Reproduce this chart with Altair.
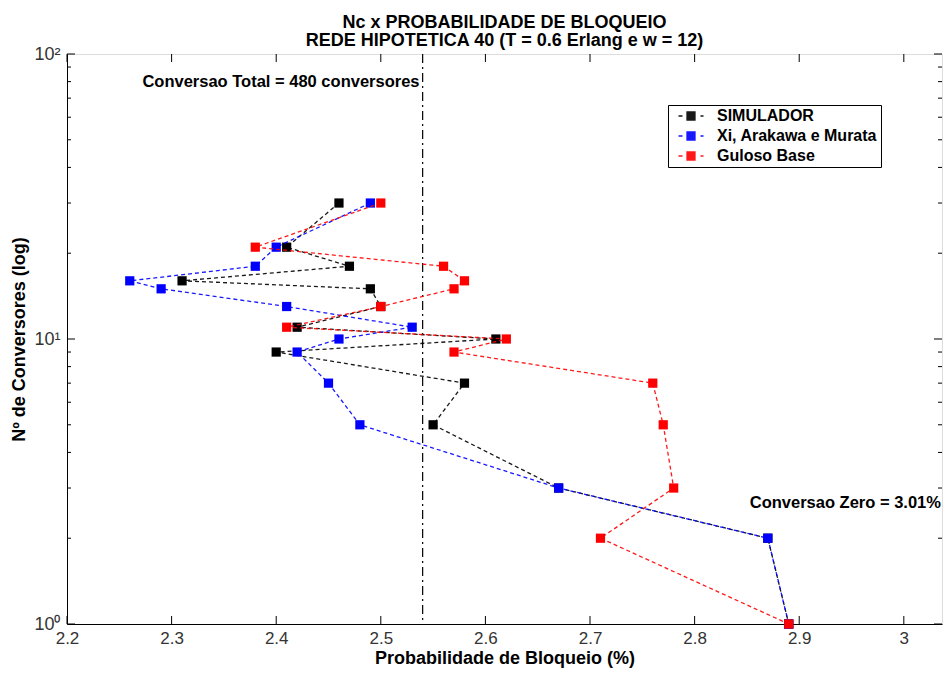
import altair as alt
import pandas as pd

# ---------------- data ----------------
nc = [30, 21, 18, 16, 15, 13, 11, 10, 9, 7, 5, 3, 2, 1]
simulador = [2.46, 2.41, 2.47, 2.31, 2.49, 2.50, 2.42, 2.61, 2.40, 2.58, 2.55, 2.67, 2.87, 2.89]
xi_arakawa_murata = [2.49, 2.40, 2.38, 2.26, 2.29, 2.41, 2.53, 2.46, 2.42, 2.45, 2.48, 2.67, 2.87, 2.89]
guloso_base = [2.50, 2.38, 2.56, 2.58, 2.57, 2.50, 2.41, 2.62, 2.57, 2.76, 2.77, 2.78, 2.71, 2.89]

series_names = ["SIMULADOR", "Xi, Arakawa e Murata", "Guloso Base"]
series_colors = ["#000000", "#0000ff", "#ff0000"]

x_tick_values = [2.2, 2.3, 2.4, 2.5, 2.6, 2.7, 2.8, 2.9, 3.0]
y_major_ticks = [1, 10, 100]
y_minor_ticks = [2, 3, 4, 5, 6, 7, 8, 9, 20, 30, 40, 50, 60, 70, 80, 90]

conversao_total_x = [2.54]
annot_text = ["Conversao Total = 480 conversores", "Conversao Zero = 3.01%"]
annot_x = [2.537, 3.0355]
annot_y = [80, 2.65]

title_lines = ["Nc x PROBABILIDADE DE BLOQUEIO", "REDE HIPOTETICA 40 (T = 0.6 Erlang e w = 12)"]

# ---------------- tables ----------------
rows = []
for name, vals in zip(series_names, [simulador, xi_arakawa_murata, guloso_base]):
    for i, (v, n) in enumerate(zip(vals, nc)):
        rows.append({"series": name, "idx": i, "prob": v, "nc": n})
df = pd.DataFrame(rows)
xt_df = pd.DataFrame({"x": x_tick_values})
ymaj_df = pd.DataFrame({"y": y_major_ticks})
ymin_df = pd.DataFrame({"y": y_minor_ticks})
vline_df = pd.DataFrame({"x": conversao_total_x})
ann_df = pd.DataFrame({"t": annot_text, "x": annot_x, "y": annot_y})

W, H = 875, 570
FONT = "Liberation Sans, Arial, sans-serif"

xscale = alt.Scale(domain=[2.2, 3.0365], nice=False, zero=False)
yscale = alt.Scale(type="log", domain=[1, 100], nice=False)

legend_path = "M-2.5,0H-1.7M1.9,0H2.5M-0.8,-0.8H0.8V0.8H-0.8Z"
color_enc = alt.Color(
    "series:N",
    sort=series_names,
    scale=alt.Scale(domain=series_names, range=series_colors),
    legend=alt.Legend(
        title=None, orient="none", legendX=601, legendY=51,
        symbolType=legend_path, symbolSize=100, symbolStrokeWidth=1.3,
        symbolOffset=12, labelOffset=18,
        labelFont=FONT, labelFontSize=16, labelFontWeight="bold", labelColor="black",
        padding=3, rowPadding=4, strokeColor="black", fillColor="white",
        cornerRadius=0, labelLimit=400,
    ),
)

x_enc = alt.X(
    "prob:Q", scale=xscale,
    axis=alt.Axis(
        values=x_tick_values, format="~g", title="Probabilidade de Bloqueio (%)",
        ticks=False, tickSize=0, grid=False, domainColor="black", labelFlush=False,
        labelFont=FONT, labelFontSize=17, labelColor="#333", labelPadding=6,
        titleFont=FONT, titleFontSize=18, titleFontWeight="bold", titleColor="black",
        titlePadding=3,
    ),
)
y_enc = alt.Y(
    "nc:Q", scale=yscale,
    axis=alt.Axis(
        values=y_major_ticks,
        labelExpr="datum.value == 1 ? '10⁰' : (datum.value == 10 ? '10¹' : '10²')",
        ticks=False, tickSize=0, grid=False, domainColor="black", labelFlush=False,
        labelFont=FONT, labelFontSize=18, labelColor="#333", labelPadding=7,
        title="Nº de Conversores (log)",
        titleFont=FONT, titleFontSize=18, titleFontWeight="bold", titleColor="black",
        titlePadding=5,
    ),
)

layers = []
# vertical dash-dot line
layers.append(
    alt.Chart(vline_df).mark_rule(color="black", strokeWidth=1.2, strokeDash=[9, 4, 2, 4]).encode(
        x=alt.X("x:Q", scale=xscale)
    )
)
for name in series_names:
    base = alt.Chart(df).transform_filter(alt.datum.series == name)
    layers.append(
        base.mark_line(strokeDash=[4, 3], strokeWidth=1.3, opacity=0.9).encode(
            x=x_enc, y=y_enc, color=color_enc, order="idx:Q"
        )
    )
    layers.append(
        base.mark_point(shape="square", filled=True, size=85, opacity=1).encode(
            x=x_enc, y=y_enc, color=color_enc
        )
    )

# inner ticks (MATLAB style)
tick_kw = dict(color="black", strokeWidth=1)
layers.append(alt.Chart(xt_df).mark_rule(**tick_kw).encode(
    x=alt.X("x:Q", scale=xscale), y=alt.value(H), y2=alt.value(H - 8)))
layers.append(alt.Chart(xt_df).mark_rule(**tick_kw).encode(
    x=alt.X("x:Q", scale=xscale), y=alt.value(0), y2=alt.value(8)))
layers.append(alt.Chart(ymaj_df).mark_rule(**tick_kw).encode(
    y=alt.Y("y:Q", scale=yscale), x=alt.value(0), x2=alt.value(8)))
layers.append(alt.Chart(ymaj_df).mark_rule(**tick_kw).encode(
    y=alt.Y("y:Q", scale=yscale), x=alt.value(W), x2=alt.value(W - 8)))
layers.append(alt.Chart(ymin_df).mark_rule(**tick_kw).encode(
    y=alt.Y("y:Q", scale=yscale), x=alt.value(0), x2=alt.value(4)))
layers.append(alt.Chart(ymin_df).mark_rule(**tick_kw).encode(
    y=alt.Y("y:Q", scale=yscale), x=alt.value(W), x2=alt.value(W - 4)))

# annotations
layers.append(
    alt.Chart(ann_df).mark_text(align="right", baseline="middle", font=FONT, fontSize=16.5,
                                fontWeight="bold", color="black").encode(
        x=alt.X("x:Q", scale=xscale), y=alt.Y("y:Q", scale=yscale), text="t:N")
)

chart = alt.layer(*layers).properties(
    width=W, height=H,
    title=alt.TitleParams(
        text=title_lines, font=FONT, fontSize=18, fontWeight="bold", color="black",
        lineHeight=18.5, anchor="middle", frame="group", baseline="bottom", offset=8, dy=31,
    ),
    padding={"left": 59, "top": 46, "right": 1, "bottom": 45},
    autosize=alt.AutoSizeParams(type="none"),
).configure_view(stroke="black", strokeWidth=1).configure(background="white")

chart.save("out.html", embed_options={"renderer": "svg", "actions": False})
